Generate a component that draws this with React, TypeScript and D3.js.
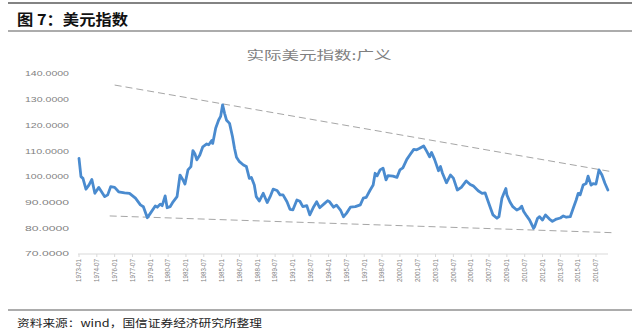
import React from "react";
import * as d3 from "d3";

const dates: string[] = [
  "1973-01","1973-03","1973-05","1973-08","1973-11","1974-02","1974-05","1974-09","1975-03","1975-06",
  "1975-09","1976-01","1976-05","1976-11","1977-04","1977-10","1978-03","1978-06","1978-10","1979-01",
  "1979-06","1979-08","1979-11","1980-01","1980-04","1980-06","1980-09","1980-12","1981-04","1981-07",
  "1981-10","1981-12","1982-03","1982-06","1982-08","1982-10","1982-12","1983-03","1983-06","1983-10",
  "1983-12","1984-03","1984-04","1984-07","1984-10","1984-12","1985-02","1985-04","1985-06","1985-09",
  "1985-12","1986-02","1986-04","1986-07","1986-11","1987-02","1987-05","1987-07","1987-10","1987-12",
  "1988-03","1988-07","1988-11","1989-02","1989-05","1989-09","1989-12","1990-03","1990-07","1990-10",
  "1991-01","1991-05","1991-08","1991-11","1992-03","1992-06","1992-10","1993-01","1993-04","1993-09",
  "1993-12","1994-02","1994-06","1994-09","1995-01","1995-04","1995-07","1995-11","1996-04","1996-09",
  "1996-12","1997-03","1997-07","1997-10","1997-12","1998-02","1998-05","1998-08","1998-11","1999-01",
  "1999-06","1999-10","2000-01","2000-04","2000-08","2000-11","2001-03","2001-06","2001-09","2002-01",
  "2002-04","2002-07","2002-09","2002-12","2003-04","2003-06","2003-08","2003-12","2004-04","2004-07",
  "2004-11","2005-03","2005-08","2005-12","2006-03","2006-08","2006-12","2007-03","2007-08","2007-11",
  "2008-03","2008-05","2008-08","2008-10","2008-12","2009-01","2009-04","2009-07","2009-11","2010-02",
  "2010-04","2010-06","2010-09","2010-12","2011-04","2011-05","2011-08","2011-10","2012-01","2012-04",
  "2012-08","2012-11","2013-03","2013-07","2013-10","2014-01","2014-05","2014-08","2014-11","2015-01",
  "2015-03","2015-06","2015-09","2015-11","2016-02","2016-04","2016-07","2016-10","2017-01","2017-04",
  "2017-07",
];

const values: number[] = [
  107.2,100.1,99.4,95.2,96.8,99.0,93.6,95.9,92.3,93.0,
  96.2,95.9,94.2,93.8,93.6,91.7,89.1,88.4,84.1,85.8,
  88.7,88.2,89.4,88.8,92.6,88.0,88.4,90.3,92.3,100.7,
  98.8,97.2,102.7,104.0,110.2,109.0,106.6,108.5,111.7,112.8,
  112.5,114.1,113.0,118.9,122.1,123.5,128.0,124.7,122.0,120.8,
  115.6,111.1,107.6,105.9,104.6,104.0,99.4,99.8,96.8,92.3,
  90.6,93.6,90.0,92.3,95.2,94.7,93.0,93.0,90.3,87.4,
  87.2,91.0,90.5,88.4,88.8,85.2,88.4,90.3,88.0,89.7,
  90.7,90.3,88.2,89.0,87.1,84.5,85.8,88.2,88.4,89.1,
  91.7,92.0,94.9,96.8,101.4,100.4,102.7,103.4,98.8,100.5,
  100.3,99.8,102.7,103.5,106.8,108.5,110.7,110.5,111.1,112.0,
  110.0,107.8,109.5,106.8,102.4,104.0,101.4,97.7,100.7,99.5,
  94.9,95.9,98.4,97.0,96.5,94.6,93.6,93.8,88.4,85.2,
  83.9,84.5,91.7,93.6,95.5,93.0,90.3,88.4,87.1,87.7,
  88.6,86.5,84.8,83.2,80.0,80.6,83.9,84.5,83.2,85.2,
  83.6,82.7,83.6,84.0,84.8,84.3,84.5,87.8,91.0,93.6,
  93.0,96.8,97.4,100.3,96.8,97.4,97.2,102.7,100.7,97.5,
  94.9,
];

const tickLabels: string[] = [
  "1973-01","1974-07","1976-01","1977-07","1979-01","1980-07","1982-01","1983-07","1985-01","1986-07",
  "1988-01","1989-07","1991-01","1992-07","1994-01","1995-07","1997-01","1998-07","2000-01","2001-07",
  "2003-01","2004-07","2006-01","2007-07","2009-01","2010-07","2012-01","2013-07","2015-01","2016-07",
];

const yTicks: number[] = [70, 80, 90, 100, 110, 120, 130, 140];

// Trend lines (dashed): [start date, start value, end date, end value]
const upperTrendDates: string[] = ["1976-01", "2017-11"];
const upperTrendValues: number[] = [135.7, 102.0];
const lowerTrendDates: string[] = ["1975-08", "2017-11"];
const lowerTrendValues: number[] = [84.8, 78.3];

const chartTitle = "实际美元指数:广义";
const headerTitle = "图 7：美元指数";
const sourceText = "资料来源：wind，国信证券经济研究所整理";

const toIdx = (s: string) => {
  const [y, m] = s.split("-").map(Number);
  return (y - 1973) * 12 + (m - 1);
};

export default function App() {
  const W = 636, H = 331;
  const x = d3.scaleLinear().domain([0, toIdx("2016-07")]).range([79, 596]);
  const y = d3.scaleLinear().domain([70, 140]).range([254, 74]);

  const pts = dates.map((d, i) => [toIdx(d), values[i]] as [number, number]);
  const line = d3.line<[number, number]>().x(d => x(d[0])).y(d => y(d[1])).curve(d3.curveLinear);

  const trend = (ds: string[], vs: number[]) =>
    line(ds.map((d, i) => [toIdx(d), vs[i]] as [number, number])) || "";

  const cjk = "'Noto Sans CJK SC', sans-serif";
  const lat = "'Liberation Sans', Arial, sans-serif";

  return (
    <svg width={W} height={H} style={{ position: "absolute", left: 0, top: 0, background: "#fff" }}>
      <rect x={0} y={0} width={W} height={H} fill="#fff" />
      {/* header */}
      <line x1={8} x2={632} y1={3} y2={3} stroke="#5a5a5a" strokeWidth={1.5} />
      <text x={17} y={25} fontFamily={cjk} fontWeight={700} fontSize={15} fill="#111"
        textLength={111} lengthAdjust="spacingAndGlyphs">{headerTitle}</text>
      <line x1={8} x2={632} y1={31} y2={31} stroke="#5a5a5a" strokeWidth={1.2} />

      {/* chart title */}
      <text x={319} y={60} textAnchor="middle" fontFamily={cjk} fontSize={12} fill="#7f7f7f"
        textLength={145} lengthAdjust="spacingAndGlyphs">{chartTitle}</text>

      {/* y labels */}
      {yTicks.map(t => (
        <text key={t} x={69} y={y(t)} dy="0.35em" textAnchor="end" fontFamily={lat} fontSize={7}
          fill="#7f7f7f" textLength={44} lengthAdjust="spacingAndGlyphs">{t.toFixed(4)}</text>
      ))}

      {/* x axis */}
      <line x1={78} x2={608} y1={y(70)} y2={y(70)} stroke="#d9d9d9" strokeWidth={1} />
      {tickLabels.map(t => {
        const xi = x(toIdx(t));
        return (
          <g key={t}>
            <line x1={xi} x2={xi} y1={y(70)} y2={y(70) + 3} stroke="#d9d9d9" />
            <text transform={`translate(${xi},${y(70) + 5}) rotate(-90)`} dy="0.35em" textAnchor="end"
              fontFamily={lat} fontSize={6.5} fill="#7f7f7f" textLength={23}
              lengthAdjust="spacingAndGlyphs">{t}</text>
          </g>
        );
      })}

      {/* trend lines */}
      <path d={trend(upperTrendDates, upperTrendValues)} fill="none" stroke="#a6a6a6" strokeWidth={1}
        strokeDasharray="7,4" />
      <path d={trend(lowerTrendDates, lowerTrendValues)} fill="none" stroke="#a6a6a6" strokeWidth={1}
        strokeDasharray="7,4" />

      {/* data line */}
      <path d={line(pts) || ""} fill="none" stroke="#4a8bcf" strokeWidth={2.8} strokeLinejoin="round"
        strokeLinecap="round" />

      {/* footer */}
      <line x1={8} x2={632} y1={310} y2={310} stroke="#5a5a5a" strokeWidth={1.2} />
      <text x={17} y={327} fontFamily={cjk} fontSize={10.5} fill="#222"
        textLength={245} lengthAdjust="spacingAndGlyphs">{sourceText}</text>
    </svg>
  );
}
